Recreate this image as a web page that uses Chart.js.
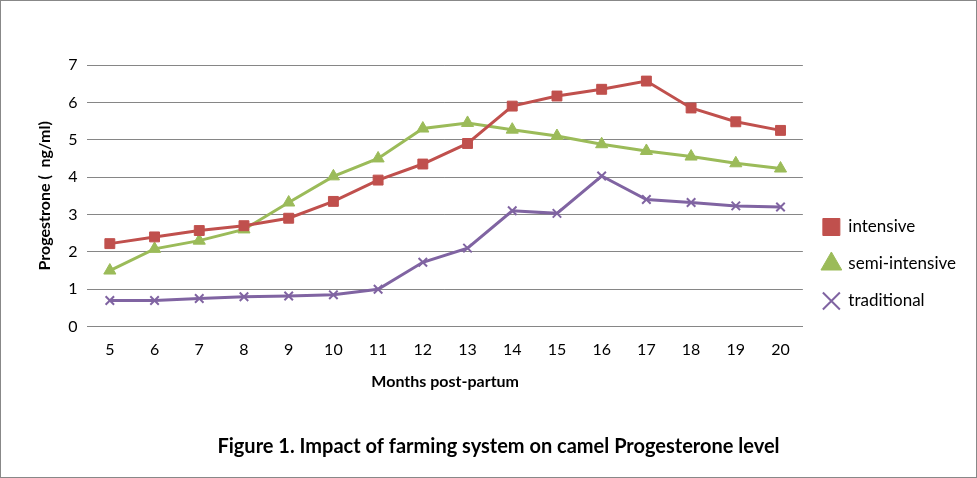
<!DOCTYPE html>
<html lang="en">
  <head>
    <meta charset="UTF-8" />
    <title>Impact of farming system on camel Progesterone level</title>
    <script src="https://cdn.jsdelivr.net/npm/chart.js"></script>
    <style>
      body { margin: 0; background: #fff; }
      #wrap { position: absolute; left: 0; top: 0; width: 975px; height: 476px; border: 1px solid #888; }
    </style>
  </head>
  <body>
    <div id="wrap"><canvas id="progChart"></canvas></div>
    <script>
      const months = ["5","6","7","8","9","10","11","12","13","14","15","16","17","18","19","20"];
      const intensive = [2.22, 2.4, 2.57, 2.7, 2.9, 3.35, 3.92, 4.35, 4.9, 5.9, 6.17, 6.35, 6.57, 5.85, 5.48, 5.25];
      const semiIntensive = [1.5, 2.08, 2.3, 2.6, 3.32, 4.02, 4.5, 5.3, 5.45, 5.27, 5.1, 4.88, 4.7, 4.55, 4.37, 4.23];
      const traditional = [0.7, 0.7, 0.75, 0.8, 0.82, 0.85, 1.0, 1.72, 2.1, 3.1, 3.03, 4.03, 3.4, 3.32, 3.23, 3.2];

      const font = "Lato, 'Open Sans', sans-serif";
      Chart.defaults.font.family = font;
      Chart.defaults.color = "#000";

      function series(label, data, color, style) {
        return {
          label: label,
          data: data,
          borderColor: color,
          backgroundColor: color,
          pointStyle: style,
          pointRadius: style === "crossRot" ? 6 : 7,
          pointBorderWidth: style === "crossRot" ? 2 : 1,
          borderWidth: 3,
          fill: false,
          tension: 0,
        };
      }

      new Chart(document.getElementById("progChart"), {
        type: "line",
        data: {
          labels: months,
          datasets: [
            series("intensive", intensive, "#C0504D", "rect"),
            series("semi-intensive", semiIntensive, "#9BBB59", "triangle"),
            series("traditional", traditional, "#8064A2", "crossRot"),
          ],
        },
        options: {
          responsive: true,
          maintainAspectRatio: false,
          animation: false,
          layout: { padding: { left: 30, right: 10, top: 64, bottom: 14 } },
          plugins: {
            legend: {
              position: "right",
              labels: {
                usePointStyle: true,
                boxWidth: 40,
                padding: 20,
                font: { size: 17 },
              },
            },
            title: {
              display: true,
              position: "bottom",
              text: "Figure 1. Impact of farming system on camel Progesterone level",
              font: { size: 20, weight: "bold" },
              padding: { top: 40, bottom: 4 },
            },
            tooltip: { enabled: false },
          },
          scales: {
            x: {
              offset: true,
              grid: { display: false },
              border: { color: "#868686" },
              ticks: { font: { size: 16 }, padding: 6 },
              title: { display: true, text: "Months post-partum", font: { size: 16, weight: "bold" }, padding: { top: 6 } },
            },
            y: {
              min: 0,
              max: 7,
              ticks: { stepSize: 1, font: { size: 16 }, padding: 10 },
              grid: { color: "#868686", drawTicks: false },
              border: { display: false },
              title: { display: true, text: "Progestrone (  ng/ml)", font: { size: 16, weight: "bold" } },
            },
          },
        },
      });
    </script>
  </body>
</html>
